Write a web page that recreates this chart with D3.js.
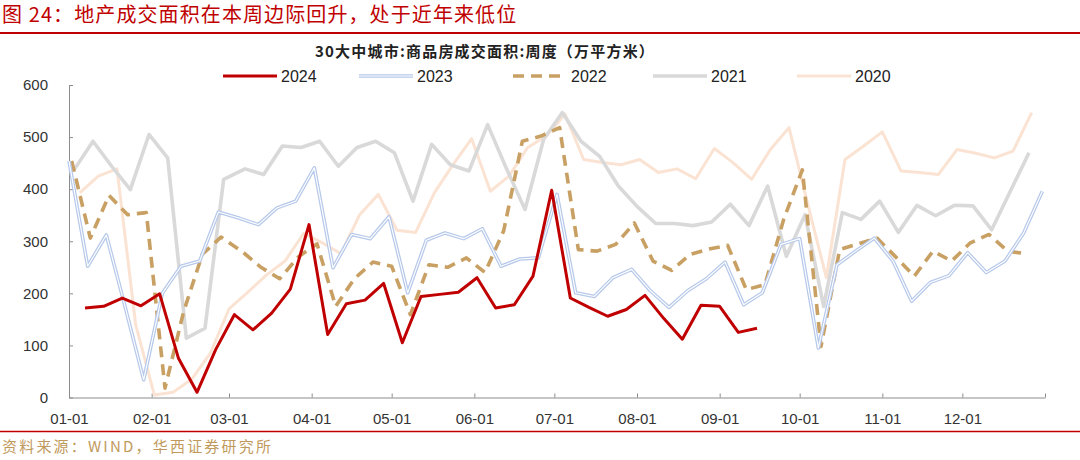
<!DOCTYPE html>
<html lang="zh">
<head>
    <meta charset="UTF-8">
    <title>30大中城市商品房成交面积</title>
    <script src="https://cdnjs.cloudflare.com/ajax/libs/d3/7.8.5/d3.min.js"></script>
    <style>
        body {
            margin: 0;
            background-color: #fff;
        }
        svg {
            display: block;
        }
        .axis text {
            font-family: "Liberation Sans", Arial, sans-serif;
            font-size: 15px;
            fill: #333;
        }
        .axis path, .axis line {
            stroke: #8c8c8c;
        }
    </style>
</head>
<body>
    <svg id="chart" width="1080" height="460"></svg>

    <script>
        // weekly data, 万平方米 (one value per week, weeks end on Sunday)
        const years = [2024, 2023, 2022, 2021, 2020];

        const values2024 = [172, 175, 191, 176, 199, 76, 10, 92, 159, 130,
            162, 208, 332, 121, 180, 187, 219, 105, 194, 198,
            202, 230, 172, 178, 233, 398, 191, 173, 156, 169,
            196, 152, 112, 177, 175, 125, 133];

        const values2023 = [454, 252, 312, 175, 34, 200, 252, 262, 356, 344,
            332, 364, 377, 441, 249, 313, 305, 347, 201, 302,
            316, 305, 324, 252, 266, 268, 390, 201, 194, 230,
            246, 205, 173, 205, 228, 260, 178, 201, 294, 305,
            95, 255, 281, 306, 262, 185, 221, 234, 278, 240,
            262, 316, 396];

        const values2022 = [454, 306, 388, 351, 355, 18, 165, 275, 308, 280,
            250, 228, 270, 295, 175, 228, 260, 252, 159, 255,
            250, 268, 240, 320, 492, 502, 518, 284, 281, 294,
            335, 262, 244, 275, 285, 292, 207, 217, 342, 437,
            98, 284, 295, 306, 270, 233, 281, 262, 297, 313,
            281, 276];

        const values2021 = [438, 492, 444, 399, 505, 460, 114, 133, 419, 439,
            428, 483, 480, 492, 444, 480, 492, 470, 377, 486,
            447, 435, 524, 440, 361, 496, 547, 492, 463, 406,
            367, 334, 334, 330, 337, 371, 330, 406, 271, 351,
            175, 355, 342, 377, 317, 369, 349, 369, 368, 322,
            396, 470];

        const values2020 = [393, 425, 439, 140, 5, 10, 35, 85, 170, 202,
            235, 262, 315, 297, 276, 351, 390, 321, 317, 393,
            447, 497, 396, 425, 480, 502, 544, 457, 451, 447,
            457, 432, 439, 420, 478, 451, 419, 476, 518, 372,
            230, 457, 483, 510, 435, 432, 428, 476, 469, 460,
            473, 547];

        const yTicks = [0, 100, 200, 300, 400, 500, 600];

        const title = "图 24：地产成交面积在本周边际回升，处于近年来低位";
        const chartTitle = "30大中城市:商品房成交面积:周度（万平方米）";
        const source = "资料来源：WIND，华西证券研究所";

        const valuesByYear = {2024: values2024, 2023: values2023, 2022: values2022, 2021: values2021, 2020: values2020};

        // week-ending dates of each year, put on the 2024 calendar
        function weeks(year, n) {
            const sundays = d3.timeSunday.range(new Date(year, 0, 1), new Date(year + 1, 0, 1));
            return sundays.slice(0, n).map(d => new Date(2024, d.getMonth(), d.getDate()));
        }

        const series = years.map(y => {
            const vals = valuesByYear[y];
            const dates = weeks(y, vals.length);
            return {year: y, points: vals.map((v, i) => ({date: dates[i], value: v}))};
        });

        const svg = d3.select("#chart");
        const cjk = '"Noto Sans CJK SC", "Liberation Sans", sans-serif';

        // header
        svg.append("text")
            .attr("x", 2).attr("y", 22)
            .attr("font-family", cjk)
            .attr("font-size", 20)
            .attr("letter-spacing", 1.1)
            .attr("fill", "#c00000")
            .text(title);

        svg.append("line")
            .attr("x1", 0).attr("x2", 1080)
            .attr("y1", 33).attr("y2", 33)
            .attr("stroke", "#c00000").attr("stroke-width", 2);

        svg.append("text")
            .attr("x", 315).attr("y", 57)
            .attr("font-family", cjk)
            .attr("font-size", 15)
            .attr("font-weight", "bold")
            .attr("letter-spacing", 1.2)
            .attr("fill", "#222")
            .text(chartTitle);

        // scales
        const x = d3.scaleTime()
            .domain([new Date(2024, 0, 1), new Date(2025, 0, 1)])
            .range([69, 1045]);

        const y = d3.scaleLinear()
            .domain([0, 600])
            .range([397.5, 85]);

        // axes
        const monthTicks = d3.timeMonth.range(new Date(2024, 0, 1), new Date(2025, 0, 2));
        const fmt = d3.timeFormat("%m-%d");

        svg.append("g")
            .attr("class", "axis")
            .attr("transform", "translate(0,397.5)")
            .call(d3.axisBottom(x)
                .tickValues(monthTicks)
                .tickSize(-4)
                .tickSizeOuter(0)
                .tickFormat(d => d.getFullYear() === 2024 ? fmt(d) : ""))
            .call(g => g.selectAll("text").attr("dy", "1.55em"));

        svg.append("g")
            .attr("class", "axis")
            .attr("transform", "translate(69,0)")
            .call(d3.axisLeft(y)
                .tickValues(yTicks)
                .tickSize(-4)
                .tickSizeOuter(0)
                .tickPadding(21));

        // lines
        const line = d3.line()
            .x(d => x(d.date))
            .y(d => y(d.value));

        const styles = {
            2024: {color: "#c00000", width: 3},
            2023: {color: "#b7c9ea", width: 3.6, inner: true},
            2022: {color: "#c9a063", width: 3.6, dash: "11,7"},
            2021: {color: "#d9d9d9", width: 3.6},
            2020: {color: "#fbe3d3", width: 3}
        };

        const drawOrder = series.slice().reverse();
        drawOrder.forEach(s => {
            const st = styles[s.year];
            svg.append("path")
                .datum(s.points)
                .attr("fill", "none")
                .attr("stroke", st.color)
                .attr("stroke-width", st.width)
                .attr("stroke-linejoin", "round")
                .attr("stroke-dasharray", st.dash || null)
                .attr("d", line);
            if (st.inner) {
                svg.append("path")
                    .datum(s.points)
                    .attr("fill", "none")
                    .attr("stroke", "#fff")
                    .attr("stroke-width", 1.1)
                    .attr("stroke-linejoin", "round")
                    .attr("d", line);
            }
        });

        // legend
        const legendX = [223, 359, 513, 653, 797];
        const legend = svg.append("g");
        years.forEach((yr, i) => {
            const st = styles[yr];
            const g = legend.append("g").attr("transform", `translate(${legendX[i]},76)`);
            g.append("line")
                .attr("x1", 0).attr("x2", 54)
                .attr("stroke", st.color)
                .attr("stroke-width", st.width)
                .attr("stroke-dasharray", st.dash || null);
            if (st.inner) {
                g.append("line")
                    .attr("x1", 0).attr("x2", 54)
                    .attr("stroke", "#fff").attr("stroke-width", 1.1);
            }
            g.append("text")
                .attr("x", 58).attr("y", 5.5)
                .attr("font-family", '"Liberation Sans", Arial, sans-serif')
                .attr("font-size", 16)
                .attr("fill", "#222")
                .text(yr);
        });

        // footer
        svg.append("line")
            .attr("x1", 0).attr("x2", 1080)
            .attr("y1", 431.5).attr("y2", 431.5)
            .attr("stroke", "#c00000").attr("stroke-width", 1.5);

        svg.append("text")
            .attr("x", 2).attr("y", 452)
            .attr("font-family", cjk)
            .attr("font-size", 15)
            .attr("letter-spacing", 2.2)
            .attr("fill", "#bf9a5c")
            .text(source);
    </script>
</body>
</html>
